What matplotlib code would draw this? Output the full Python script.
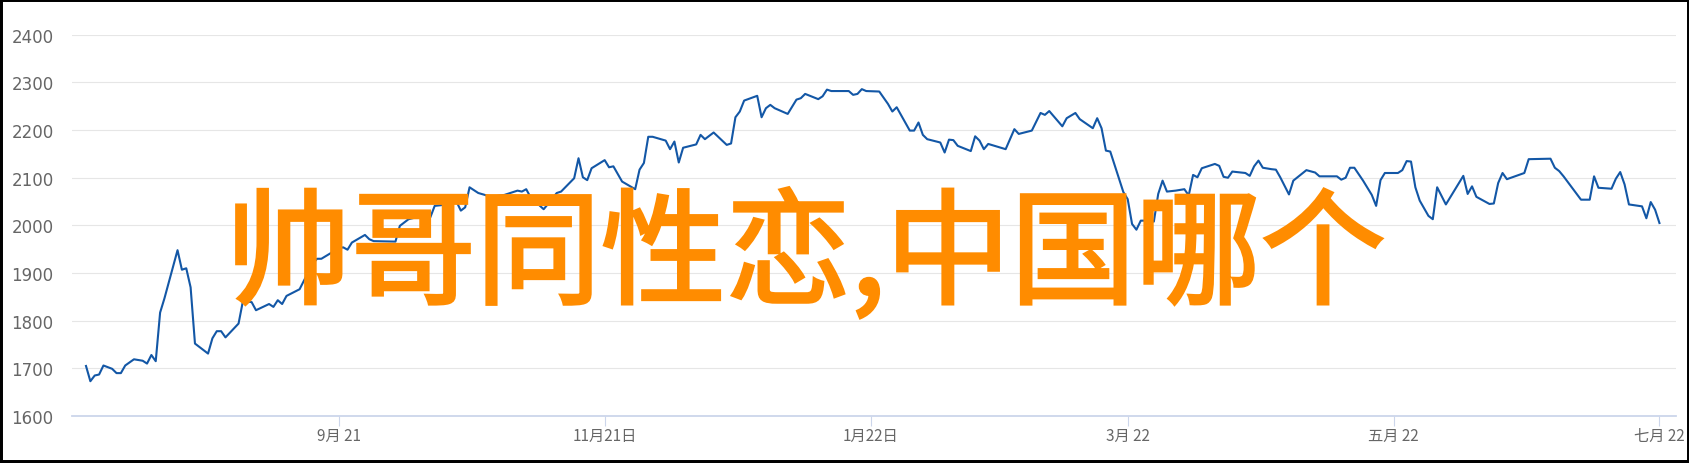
import numpy as np
import pandas as pd
import matplotlib
matplotlib.use('Agg')
import matplotlib.pyplot as plt
import matplotlib.patheffects as pe
from matplotlib.patches import Rectangle

plt.rcParams['font.family'] = ['DejaVu Sans', 'Noto Sans CJK SC']
plt.rcParams['axes.unicode_minus'] = False

# 日期 = 2021-07-01 起算的天数
start_date = '2021-07-01'
days = [4, 5, 6, 7, 8, 10, 11, 12, 13, 15, 17, 18, 19, 20, 21, 22, 25, 26, 27, 28,
        29, 32, 33, 34, 35, 36, 39, 40, 42, 43, 46, 47, 48, 49, 50, 53, 55, 56, 57, 58,
        62, 63, 64, 65, 68, 69, 70, 75, 76, 78, 82, 83, 84, 88, 89, 90, 91, 92, 94, 97,
        100, 103, 104, 105, 106, 109, 110, 112, 113, 116, 117, 118, 119, 120, 123, 124, 125, 127, 130, 131,
        132, 133, 134, 137, 138, 139, 140, 141, 144, 145, 146, 148, 151, 152, 153, 154, 155, 158, 159, 160,
        161, 162, 165, 167, 168, 169, 172, 173, 174, 175, 179, 180, 181, 182, 183, 186, 188, 189, 190, 193,
        194, 195, 196, 197, 200, 201, 202, 203, 204, 207, 208, 209, 210, 211, 215, 217, 218, 221, 223, 224,
        225, 228, 229, 231, 232, 235, 236, 237, 238, 239, 242, 243, 244, 245, 246, 247, 249, 250, 251, 252,
        254, 256, 257, 258, 259, 260, 263, 264, 265, 266, 267, 270, 271, 272, 273, 274, 276, 277, 278, 280,
        281, 284, 286, 287, 291, 292, 293, 294, 295, 297, 299, 300, 301, 302, 305, 306, 307, 308, 309, 310,
        312, 313, 314, 316, 320, 321, 322, 323, 326, 327, 328, 329, 330, 334, 335, 340, 341, 342, 343, 347,
        349, 350, 351, 354, 355, 356, 357, 358, 361, 362, 363, 364, 365]
values = [1705, 1673, 1685, 1687, 1706, 1699, 1690, 1690, 1706, 1719, 1716, 1710, 1728, 1715, 1817, 1847, 1948, 1907, 1910, 1870,
          1752, 1731, 1763, 1778, 1778, 1765, 1794, 1841, 1839, 1822, 1835, 1829, 1843, 1835, 1852, 1866, 1902, 1919, 1930, 1930,
          1952, 1954, 1949, 1964, 1980, 1971, 1967, 1966, 1999, 2013, 2022, 2017, 2041, 2045, 2050, 2031, 2038, 2080, 2068, 2060,
          2064, 2073, 2071, 2076, 2059, 2034, 2045, 2068, 2071, 2099, 2141, 2101, 2095, 2120, 2137, 2122, 2124, 2092, 2076, 2117,
          2131, 2186, 2186, 2178, 2160, 2176, 2132, 2163, 2170, 2190, 2181, 2195, 2169, 2172, 2227, 2239, 2262, 2272, 2227, 2246,
          2253, 2246, 2234, 2264, 2267, 2276, 2265, 2271, 2285, 2282, 2282, 2274, 2276, 2286, 2282, 2281, 2255, 2239, 2248, 2199,
          2199, 2216, 2190, 2181, 2174, 2153, 2180, 2179, 2167, 2156, 2187, 2178, 2160, 2171, 2160, 2202, 2192, 2199, 2236, 2232,
          2240, 2208, 2225, 2236, 2223, 2204, 2225, 2204, 2157, 2155, 2070, 2055, 2003, 1991, 2010, 2010, 2008, 2066, 2094, 2071,
          2073, 2076, 2063, 2106, 2101, 2120, 2129, 2125, 2102, 2100, 2113, 2110, 2104, 2124, 2136, 2121, 2118, 2117, 2101, 2065,
          2094, 2116, 2111, 2103, 2103, 2096, 2100, 2121, 2121, 2094, 2064, 2041, 2095, 2110, 2110, 2116, 2135, 2134, 2080, 2052,
          2020, 2013, 2080, 2044, 2104, 2066, 2082, 2060, 2045, 2046, 2089, 2110, 2097, 2110, 2139, 2140, 2121, 2114, 2103, 2054,
          2054, 2103, 2079, 2077, 2098, 2112, 2086, 2044, 2040, 2015, 2049, 2033, 2005]

tick_dates = ['2021-09-01', '2021-11-01', '2022-01-01', '2022-03-01', '2022-05-01', '2022-07-01']
tick_labels = ['9月 21', '11月21日', '1月22日', '3月 22', '五月 22', '七月 22']
y_ticks = [1600, 1700, 1800, 1900, 2000, 2100, 2200, 2300, 2400]
title_text = '帅哥同性恋,中国哪个'

dates = pd.Timestamp(start_date) + pd.to_timedelta(days, unit='D')

fig = plt.figure(figsize=(16.9, 4.64), dpi=100)
ax = fig.add_axes([0.0424, 0.1013, 0.9493, 0.8215])

ax.plot(dates, values, color='#1357a6', linewidth=1.5, zorder=3)

ax.set_xlim(pd.Timestamp('2021-07-01 17:00'), pd.Timestamp('2022-07-04 19:00'))
ax.set_ylim(1600, 2400)
ax.set_yticks(y_ticks)
ax.set_yticklabels([str(v) for v in y_ticks])
ax.set_xticks(pd.to_datetime(tick_dates))
ax.set_xticklabels(tick_labels, fontfamily=['Noto Sans CJK SC', 'DejaVu Sans'], fontsize=11, color='#666666')

ax.grid(axis='y', color='#e6e6e6', linewidth=0.8)
ax.set_axisbelow(True)
for s in ['top', 'left', 'right']:
    ax.spines[s].set_visible(False)
ax.spines['bottom'].set_color('#ccd6eb')
ax.spines['bottom'].set_linewidth(1.3)
ax.spines['bottom'].set_zorder(2)

ax.tick_params(axis='x', length=7.2, width=0.8, color='#ccd6eb', pad=1)
ax.tick_params(axis='y', length=0, pad=13, labelsize=12, labelcolor='#666666')

# 大字水印, 用描边加粗一点
fig.text(0.4768, 0.364, title_text, fontfamily=['Noto Sans CJK SC', 'DejaVu Sans'],
         fontsize=90, color='#ff8c00', ha='center', va='baseline', zorder=5,
         path_effects=[pe.withStroke(linewidth=2.2, foreground='#ff8c00', joinstyle='miter')])

fig.patches.append(Rectangle((0, 0), 1, 1, transform=fig.transFigure, fill=False,
                             edgecolor='black', linewidth=4.3, clip_on=False))

plt.savefig('out.png', dpi=100)
